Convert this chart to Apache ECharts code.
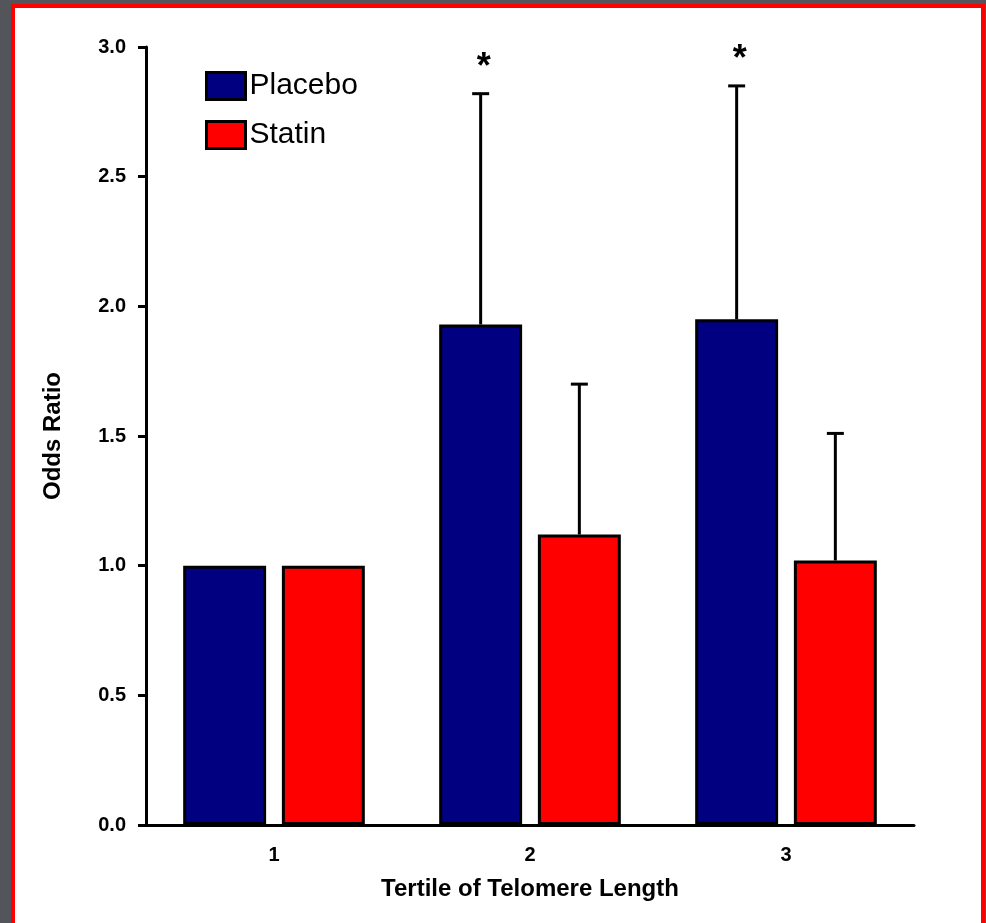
<!DOCTYPE html>
<html>
<head>
<meta charset="utf-8">
<script src="https://cdn.jsdelivr.net/npm/echarts@6/dist/echarts.min.js"></script>
<style>
  html, body { margin: 0; padding: 0; width: 986px; height: 923px; overflow: hidden; background: #54555a; }
  #frame { position: absolute; left: 11px; top: 4px; width: 966px; height: 940px; background: #fff; border: 4px solid #f00; }
  #chart { position: absolute; left: 0; top: 0; width: 986px; height: 923px; }
</style>
</head>
<body>
<div id="frame"></div>
<div id="chart"></div>
<script>
// Odds ratio by tertile of telomere length, placebo vs statin
const tertiles = ['1', '2', '3'];
const placebo = [1.0, 1.93, 1.95];
const placeboUpper = [null, 2.82, 2.85];
const statin = [1.0, 1.12, 1.02];
const statinUpper = [null, 1.70, 1.51];
const placeboSignificant = [false, true, true];

const FONT = '"Liberation Sans", Arial, sans-serif';
const BAR_FRAC = 0.324;   // bar width as a share of the category band
const GAP_FRAC = 0.19;    // gap between paired bars, relative to bar width

function errorBars(values, upper, side, flags) {
  const data = [];
  values.forEach((v, i) => { if (upper[i] != null) data.push([i, v, upper[i]]); });
  return {
    type: 'custom',
    z: 5,
    silent: true,
    data: data,
    renderItem: function (params, api) {
      const i = api.value(0);
      const lo = api.value(1);
      const hi = api.value(2);
      const band = api.size([1, 0])[0];
      const bw = band * BAR_FRAC;
      const off = side * (bw + bw * GAP_FRAC) / 2;
      const base = api.coord([i, lo]);
      const top = api.coord([i, hi]);
      const x = base[0] + off;
      const style = { stroke: '#000', lineWidth: 3 };
      const children = [
        { type: 'line', shape: { x1: x, y1: base[1], x2: x, y2: top[1] }, style: style },
        { type: 'line', shape: { x1: x - 8.5, y1: top[1], x2: x + 8.5, y2: top[1] }, style: style }
      ];
      if (flags && flags[i]) {
        children.push({
          type: 'text',
          x: x + 3,
          y: top[1] - 26,
          style: { text: '*', fill: '#000', font: 'bold 36px ' + FONT, align: 'center', verticalAlign: 'middle' }
        });
      }
      return { type: 'group', children: children };
    }
  };
}

const chart = echarts.init(document.getElementById('chart'), null, { renderer: 'canvas' });
chart.setOption({
  backgroundColor: 'transparent',
  animation: false,
  textStyle: { fontFamily: FONT },
  grid: { left: 146, right: 72, top: 47, bottom: 98, containLabel: false },
  legend: {
    data: ['Placebo', 'Statin'],
    orient: 'vertical',
    left: 205,
    top: 70,
    padding: 0,
    icon: 'rect',
    itemWidth: 39,
    itemHeight: 27,
    itemGap: 17,
    selectedMode: false,
    itemStyle: { borderColor: '#000', borderWidth: 3 },
    textStyle: { fontSize: 30, color: '#000', fontFamily: FONT, lineHeight: 30, padding: [2, 0, 0, -1] }
  },
  xAxis: {
    type: 'category',
    data: tertiles,
    name: 'Tertile of Telomere Length',
    nameLocation: 'middle',
    nameGap: 52,
    nameTextStyle: { fontSize: 24, fontWeight: 'bold', color: '#000', fontFamily: FONT },
    axisLine: { lineStyle: { color: '#000', width: 3 } },
    axisTick: { alignWithLabel: true, length: 8, lineStyle: { color: '#000', width: 3 } },
    axisLabel: { fontSize: 20, fontWeight: 'bold', color: '#000', margin: 20, fontFamily: FONT },
    splitLine: { show: false }
  },
  yAxis: {
    type: 'value',
    min: 0,
    max: 3,
    interval: 0.5,
    name: 'Odds Ratio',
    nameLocation: 'middle',
    nameGap: 81,
    nameTextStyle: { fontSize: 24, fontWeight: 'bold', color: '#000', fontFamily: FONT },
    axisLine: { show: true, lineStyle: { color: '#000', width: 3 } },
    axisTick: { show: true, length: 8, lineStyle: { color: '#000', width: 3 } },
    axisLabel: { fontSize: 20, fontWeight: 'bold', color: '#000', margin: 20, fontFamily: FONT,
                 formatter: v => v.toFixed(1) },
    splitLine: { show: false }
  },
  series: [
    {
      name: 'Placebo', type: 'bar', data: placebo,
      barWidth: (BAR_FRAC * 100) + '%', barGap: (GAP_FRAC * 100) + '%',
      itemStyle: { color: '#000080', borderColor: '#000', borderWidth: 3 }
    },
    {
      name: 'Statin', type: 'bar', data: statin,
      barWidth: (BAR_FRAC * 100) + '%', barGap: (GAP_FRAC * 100) + '%',
      itemStyle: { color: '#ff0000', borderColor: '#000', borderWidth: 3 }
    },
    errorBars(placebo, placeboUpper, -1, placeboSignificant),
    errorBars(statin, statinUpper, 1, null)
  ]
});
</script>
</body>
</html>
